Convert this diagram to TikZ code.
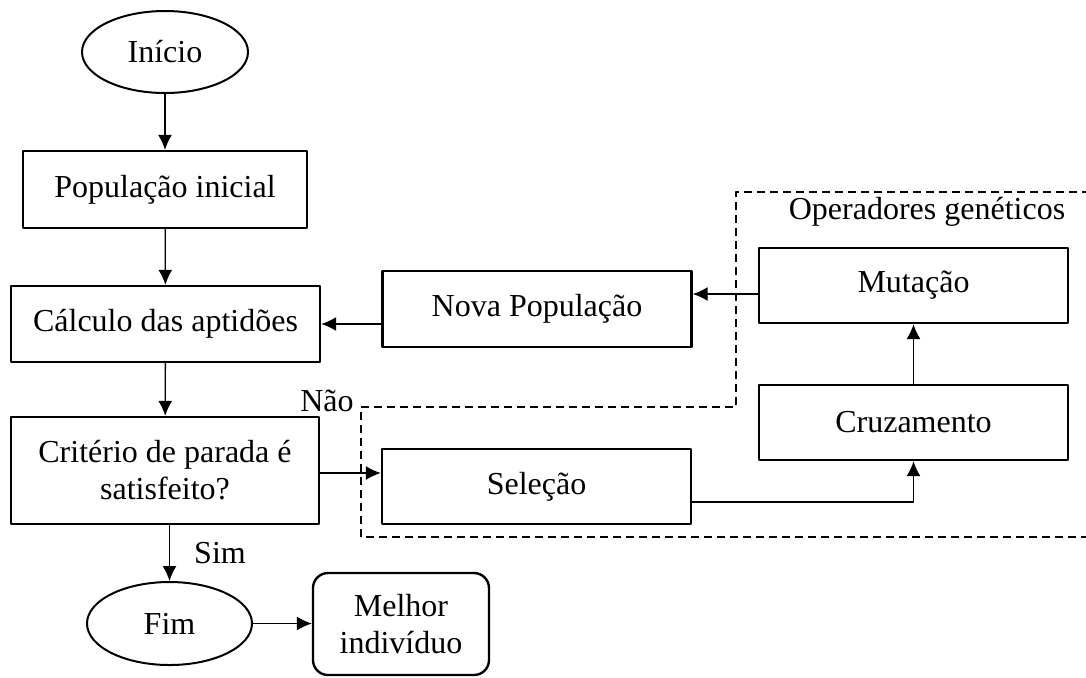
\documentclass[tikz,border=0pt]{standalone}
\usepackage{fontspec}
\setmainfont{Liberation Serif}
\usetikzlibrary{shapes.geometric,arrows.meta,calc,positioning}

\begin{document}
\begin{tikzpicture}[x=0.5pt,y=-0.5pt,line join=round,line cap=round,
box/.style={draw,line width=1.2pt,inner sep=0pt,minimum width=154.5pt,minimum height=37.5pt,align=center},
oval/.style={draw,ellipse,line width=1pt,inner sep=0pt,minimum width=83pt,minimum height=41pt},
seta/.style={-{Latex[length=7.5pt,width=7pt]},line width=0.65pt},
font=\fontsize{16}{18.5}\selectfont]
\useasboundingbox (0,0) rectangle (1086,677);
\node[oval] (I) at (165,52) {Início};
\node[box,minimum width=142pt,minimum height=38.5pt] (P) at (165,189.5) {População inicial};
\node[box,minimum height=38pt] (A) at (165.5,324) {Cálculo das aptidões};
\node[box,minimum height=53.5pt,minimum width=154pt] (C) at (165,470.5) {Critério de parada é\\satisfeito?};
\node[oval,minimum width=82.5pt,minimum height=41.5pt] (F) at (169.5,623.5) {Fim};
\node[box,rounded corners=7.5pt,minimum width=88pt,minimum height=51pt] (M) at (401,624) {Melhor\\indivíduo};
\node[box,minimum height=38pt] (N) at (537,309) {Nova População};
\node[box] (S) at (536.5,486.5) {Seleção};
\node[box] (U) at (913.5,285.5) {Mutação};
\node[box] (X) at (913.5,422.5) {Cruzamento};
% operadores geneticos
\draw[line width=1pt,dash pattern=on 4pt off 2.5pt,line cap=butt] (1090,192)--(736,192)--(736,407)--(361,407)--(361,537)--(1090,537);
\node at (927,212) {Operadores genéticos};
\node at (327,401) {Não};
\node at (220,553) {Sim};
\coordinate (c) at ($(C.east)+(0,2.5)$);
\coordinate (s) at ($(S.east)+(0,15.5)$);
\coordinate (u) at ($(U.west)+(0,8.5)$);
\foreach \a/\b in {I/P,P/A,A/C}{\draw[seta](\a)--(\b);}
\draw[seta] (C.south -| F.north)--(F.north);
\draw[seta] (c)--(c -| S.west);
\draw[seta] (F.east)--(F.east -| M.west);
\draw[seta] (s) -| (X.south);
\draw[seta] (X.north)--(U.south);
\draw[seta] (u)--(u -| N.east);
\draw[seta] (A.east -| N.west)--(A.east);
\end{tikzpicture}
\end{document}
